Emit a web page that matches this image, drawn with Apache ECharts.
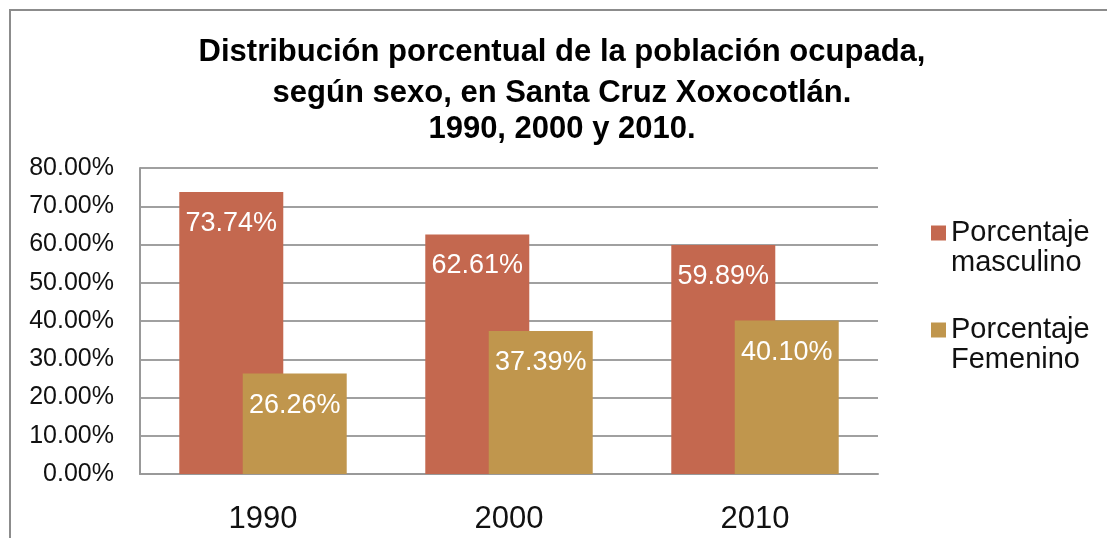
<!DOCTYPE html>
<html>
<head>
<meta charset="utf-8">
<script src="https://cdn.jsdelivr.net/npm/echarts@6/dist/echarts.min.js"></script>
<style>
  html, body { margin: 0; padding: 0; background: #fff; }
  #main { width: 1107px; height: 538px; }
</style>
</head>
<body>
<div id="main"></div>
<script>
// datos
var years = ['1990', '2000', '2010'];
var masculino = [73.74, 62.61, 59.89];
var femenino = [26.26, 37.39, 40.10];
var seriesNames = ['Porcentaje masculino', 'Porcentaje Femenino'];
var titleLines = [
  'Distribución porcentual de la población ocupada,',
  'según sexo, en Santa Cruz Xoxocotlán.',
  '1990, 2000 y 2010.'
];

var font = '"Liberation Sans", Arial, sans-serif';
var myChart = echarts.init(document.getElementById('main'));

var titleTops = [37, 78, 114];
var titles = titleLines.map(function (t, i) {
  return {
    text: t,
    left: 562,
    textAlign: 'center',
    top: titleTops[i],
    padding: 0,
    textStyle: { fontFamily: font, fontWeight: 'bold', fontSize: 31, color: '#000' }
  };
});

var barLabel = {
  show: true,
  position: 'insideTop',
  distance: 18,
  color: '#fff',
  fontFamily: font,
  fontSize: 27,
  formatter: function (p) { return p.value.toFixed(2) + '%'; }
};

var option = {
  animation: false,
  title: titles,
  graphic: [{
    type: 'rect',
    shape: { x: 10, y: 10, width: 1130, height: 570 },
    style: { fill: 'none', stroke: '#8c8c8c', lineWidth: 2 },
    silent: true
  }],
  legend: {
    orient: 'vertical',
    left: 931,
    top: 188,
    padding: 0,
    itemWidth: 15,
    itemHeight: 15,
    itemGap: 7,
    icon: 'rect',
    data: seriesNames,
    // linea vacia arriba para que el cuadro quede junto a la primera linea
    formatter: function (name) { return '\n' + name.replace(' ', '\n'); },
    textStyle: {
      fontFamily: font,
      fontSize: 29,
      color: '#111',
      lineHeight: 30
    }
  },
  grid: { left: 140, right: 229, top: 168, bottom: 64, containLabel: false },
  xAxis: {
    type: 'category',
    data: years,
    axisLine: { lineStyle: { color: '#999', width: 2 } },
    axisTick: { show: false },
    axisLabel: { fontFamily: font, fontSize: 31, color: '#111', margin: 30 }
  },
  yAxis: {
    type: 'value',
    min: 0,
    max: 80,
    interval: 10,
    axisLine: { show: true, lineStyle: { color: '#999', width: 2 } },
    axisTick: { show: false },
    splitLine: { lineStyle: { color: '#a0a0a0', width: 2 } },
    axisLabel: {
      fontFamily: font, fontSize: 25, color: '#111', margin: 26,
      formatter: function (v) { return v.toFixed(2) + '%'; }
    }
  },
  series: [
    {
      name: seriesNames[0],
      type: 'bar',
      data: masculino,
      barWidth: 104,
      barGap: '-39%',
      itemStyle: { color: '#C4684F' },
      label: barLabel
    },
    {
      name: seriesNames[1],
      type: 'bar',
      data: femenino,
      barWidth: 104,
      itemStyle: { color: '#C0964D' },
      label: barLabel
    }
  ]
};
myChart.setOption(option);
</script>
</body>
</html>
